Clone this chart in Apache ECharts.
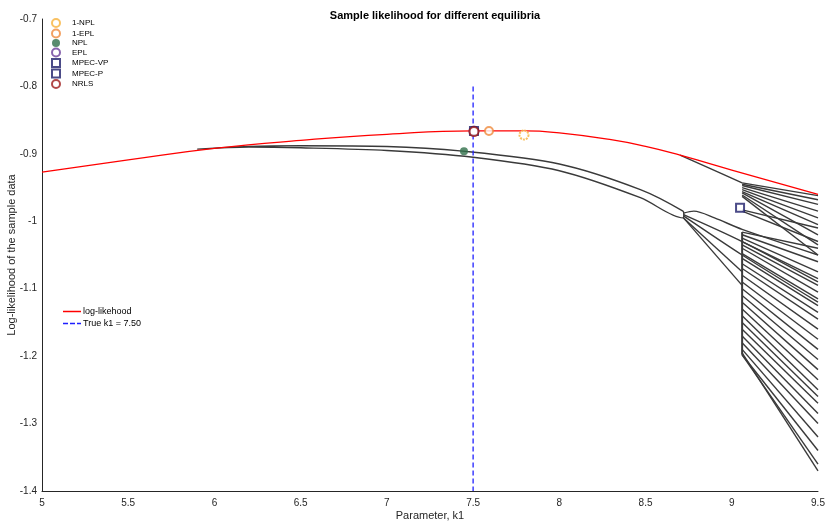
<!DOCTYPE html>
<html>
<head>
<meta charset="utf-8">
<script src="https://cdn.jsdelivr.net/npm/echarts@6/dist/echarts.min.js"></script>
<style>
  html, body { margin: 0; padding: 0; background: #fff; }
  #chart { width: 826px; height: 523px; }
</style>
</head>
<body>
<div id="chart"></div>
<script>
// axis ticks
var xTicks = [5, 5.5, 6, 6.5, 7, 7.5, 8, 8.5, 9, 9.5];
var yTicks = [-1.4, -1.3, -1.2, -1.1, -1, -0.9, -0.8, -0.7];

// red log-likelihood curve
var redCurve = [[5,-0.927],[5.5,-0.909],[6,-0.892],[6.5,-0.880],[7,-0.871],[7.5,-0.866],
  [7.8,-0.866],[8,-0.869],[8.3,-0.879],[8.5,-0.889],[8.7,-0.902],[9,-0.924],[9.5,-0.960]];

// true k1
var trueK1 = 7.5;
var trueLine = [[7.5,-0.8],[7.5,-1.4]];

// other equilibria branches
var foldBranch = [[5.9,-0.893],[6.2,-0.889],[6.5,-0.888],[7,-0.889],[7.44,-0.896],[8,-0.915],
  [8.47,-0.953],[8.717,-0.985],[8.722,-0.99],[8.717,-0.995],[8.47,-0.965],[8,-0.925],
  [7.5,-0.905],[7,-0.895],[6.5,-0.891],[6.2,-0.890],[5.9,-0.893]];
var upperBranch = [[8.70,-0.902],[8.85,-0.919],[9.06,-0.943]];
var verticalBranch = [[9.06,-1.016],[9.06,-1.198]];
var foldFan = [
  [[8.72,-0.988],[8.78,-0.985],[8.9,-0.995],[9.06,-1.012],[9.5,-1.05]],
  [[8.72,-0.99],[9.06,-1.03],[9.5,-1.09]],
  [[8.72,-0.992],[9.06,-1.05],[9.5,-1.12]],
  [[8.72,-0.995],[9.06,-1.075]],
  [[8.72,-0.995],[9.06,-1.095]]
];
// right fan: start y at k1 = 9.06, end y at k1 = 9.5
var fanStart = [-0.943,-0.945,-0.947,-0.950,-0.953,-0.956,-0.958,-0.961,-0.963,-0.983,-0.985,
  -1.016,-1.020,-1.025,-1.030,-1.035,-1.040,-1.048,-1.055,-1.063,-1.070,-1.080,-1.090,
  -1.100,-1.110,-1.120,-1.130,-1.140,-1.150,-1.160,-1.170,-1.180,-1.190,-1.198,-1.198,-1.195];
var fanEnd = [-0.962,-0.968,-0.975,-0.985,-0.995,-1.005,-1.020,-1.035,-1.050,-1.010,-1.030,
  -1.040,-1.060,-1.075,-1.085,-1.095,-1.105,-1.115,-1.125,-1.135,-1.145,-1.160,-1.175,
  -1.190,-1.205,-1.220,-1.235,-1.250,-1.260,-1.270,-1.285,-1.300,-1.320,-1.340,-1.360,-1.370];

// estimates
var markerNames = ['1-NPL','1-EPL','NPL','EPL','MPEC-VP','MPEC-P','NRLS'];
var markerPoints = [[7.795,-0.872],[7.592,-0.866],[7.447,-0.896],[7.505,-0.866],[9.048,-0.980],[7.505,-0.866],[7.505,-0.867]];

var chart = echarts.init(document.getElementById('chart'));

var series = [];
var black = {color: '#3a3a3a', width: 1.4};
function addBlack(pts) {
  series.push({type: 'line', data: pts, symbol: 'none', smooth: 0.3, silent: true,
    lineStyle: black, z: 2});
}
addBlack(foldBranch);
addBlack(upperBranch);
series.push({type: 'line', data: verticalBranch, symbol: 'none', silent: true, lineStyle: {color: '#3a3a3a', width: 2}, z: 2});
foldFan.forEach(addBlack);
for (var i = 0; i < fanStart.length; i++) {
  addBlack([[9.06, fanStart[i]], [9.5, fanEnd[i]]]);
}

var redName = 'log-likehood';
var blueName = 'True k1 = ' + trueK1.toFixed(2);
series.push({name: redName, type: 'line', data: redCurve, smooth: true, symbol: 'none',
  lineStyle: {color: '#ff0000', width: 1.3}, itemStyle: {color: '#ff0000'}, z: 3});
series.push({name: blueName, type: 'line', data: trueLine, symbol: 'none',
  lineStyle: {color: '#1f1fff', width: 1.3, type: [5, 3]}, itemStyle: {color: '#1f1fff'}, z: 3});

var markerStyles = [
  {symbol: 'emptyCircle', size: 9, color: '#f7b23b', border: 1.5, dash: [2, 1]},
  {symbol: 'emptyCircle', size: 8, color: '#ef8a3c', border: 1.3},
  {symbol: 'circle', size: 8, color: '#2f6f4a', border: 0},
  {symbol: 'emptyCircle', size: 9, color: '#6a3d9a', border: 2},
  {symbol: 'emptyRect', size: 8, color: '#1e1e6a', border: 1.3},
  {symbol: 'emptyRect', size: 8, color: '#1e1e6a', border: 1.3},
  {symbol: 'emptyCircle', size: 9, color: '#9e1a1a', border: 2.5}
];
markerNames.forEach(function (name, i) {
  var s = markerStyles[i];
  series.push({name: name, type: 'scatter', data: [markerPoints[i]], symbol: s.symbol, symbolSize: s.size,
    itemStyle: {color: s.color, borderColor: s.color, borderWidth: s.border, borderType: s.dash || 'solid'}, z: 5});
});

chart.setOption({
  animation: false,
  backgroundColor: '#fff',
  title: {
    text: 'Sample likelihood for different equilibria', left: 430, top: 5, textAlign: 'center',
    textStyle: {fontFamily: 'Liberation Sans', fontSize: 11, fontWeight: 'bold', color: '#000'}
  },
  grid: {left: 42, right: 8, top: 19, bottom: 32, outerBoundsMode: 'none', containLabel: false},
  legend: [{
    data: markerNames, orient: 'vertical', left: 46, top: 13, itemWidth: 8, itemHeight: 8, itemGap: 0.5,
    textStyle: {fontFamily: 'Liberation Sans', fontSize: 8, color: '#000', padding: [0, 0, 0, 7]}
  }, {
    data: [
      {name: redName, icon: 'path://M0,0H18V1.5H0Z'},
      {name: blueName, icon: 'path://M0,0H5V1.5H0Z M7,0H12V1.5H7Z M14,0H18V1.5H14Z'}
    ],
    orient: 'vertical', left: 58, top: 302, itemWidth: 18, itemHeight: 2, itemGap: 3,
    textStyle: {fontFamily: 'Liberation Sans', fontSize: 9, color: '#000', padding: [0, 0, 0, -3]}
  }],
  xAxis: {
    type: 'value', min: 5, max: 9.5, interval: 0.5,
    name: 'Parameter, k1', nameLocation: 'middle', nameGap: 19, nameMoveOverlap: false,
    nameTextStyle: {fontFamily: 'Liberation Sans', fontSize: 11, color: '#262626'},
    axisLine: {lineStyle: {color: '#262626', width: 1}},
    axisTick: {show: false}, splitLine: {show: false},
    axisLabel: {fontFamily: 'Liberation Sans', fontSize: 10, color: '#262626', margin: 7}
  },
  yAxis: {
    type: 'value', min: -1.4, max: -0.7, interval: 0.1,
    name: 'Log-likelihood of the sample data', nameLocation: 'middle', nameGap: 25, nameMoveOverlap: false,
    nameTextStyle: {fontFamily: 'Liberation Sans', fontSize: 11, color: '#262626'},
    axisLine: {show: true, lineStyle: {color: '#262626', width: 1}},
    axisTick: {show: false}, splitLine: {show: false},
    axisLabel: {fontFamily: 'Liberation Sans', fontSize: 10, color: '#262626', margin: 5}
  },
  series: series
});
</script>
</body>
</html>
